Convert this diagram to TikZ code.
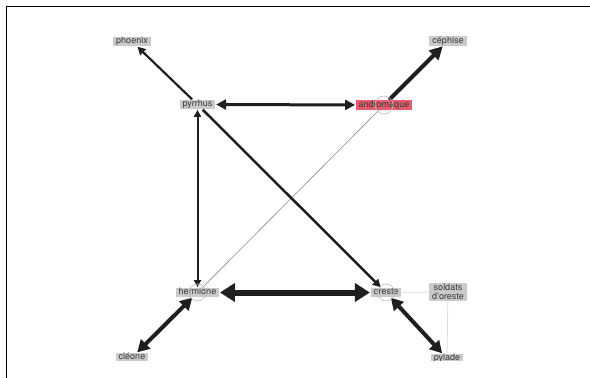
\documentclass[tikz,border=0pt]{standalone}
\usepackage{fontspec}
\setmainfont{TeX Gyre Heros}
\usetikzlibrary{arrows.meta}
\definecolor{boxgray}{HTML}{CACACA}
\definecolor{txtgray}{HTML}{3A3A3A}
\definecolor{redbox}{HTML}{E85A6E}
\definecolor{edgecol}{HTML}{1F1F1F}
\definecolor{thingray}{HTML}{8A8A8A}
\definecolor{lightline}{HTML}{DDDDDD}
\definecolor{loopgray}{HTML}{BBBBBB}
\pgfdeclarelayer{bg}
\pgfsetlayers{bg,main}
\begin{document}
\begin{tikzpicture}[x=1pt,y=-1pt,
  lbl/.style={fill=boxgray, text=txtgray, font=\fontsize{9}{9.5}\selectfont,
    inner xsep=3pt, inner ysep=0.4pt, text height=6.5pt, text depth=2pt},
  lbltwo/.style={fill=boxgray, text=txtgray, font=\fontsize{9}{9.5}\selectfont,
    inner xsep=3pt, inner ysep=1pt, align=center},
  edge/.style={draw=edgecol, shorten >=0.5pt, shorten <=0.5pt},
  thin/.style={draw=thingray, line width=0.6pt},
  faint/.style={draw=lightline, line width=0.8pt},
  selfloop/.style={draw=loopgray, line width=0.6pt}]
\useasboundingbox (0,0) rectangle (590,378);
\begin{scope}
\clip (6,7) rectangle (590,360);
\node[lbl] (phoenix) at (132,41.5) {phoenix};
\node[lbl] (cephise) at (448,41) {céphise};
\node[lbl] (pyrrhus) at (197.5,104.5) {pyrrhus};
\node[lbl, fill=redbox] (andromaque) at (384,105) {andromaque};
\node[lbl] (hermione) at (197.5,292.5) {hermione};
\node[lbl] (oreste) at (386,292.5) {oreste};
\node[lbltwo] (soldats) at (448,292) {soldats\\d'oreste};
\node[lbl] (cleone) at (132,357.5) {cléone};
\node[lbl] (pylade) at (447,358.5) {pylade};
% self loops
\draw[selfloop] (andromaque.center) circle (9);
\draw[selfloop] (hermione.center) circle (8.5);
\draw[selfloop] (oreste.center) circle (8.5);
\end{scope}
\begin{pgfonlayer}{bg}
\begin{scope}
\clip (6,7) rectangle (590,360);
\draw[faint] (oreste) -- (soldats);
\draw[faint] (soldats) -- (pylade);
\draw[thin] (hermione) -- (andromaque);
\draw[edge, line width=2.2pt, -{Triangle[length=8pt,width=8pt]}] (pyrrhus) -- (phoenix);
\draw[edge, line width=3pt, {Triangle[length=10pt,width=10pt]}-{Triangle[length=10pt,width=10pt]}] (pyrrhus) -- (andromaque);
\draw[edge, line width=4pt, -{Triangle[length=13pt,width=13pt]}] (andromaque) -- (cephise);
\draw[edge, line width=2pt, {Triangle[length=7pt,width=7pt]}-{Triangle[length=7pt,width=7pt]}] (pyrrhus) -- (hermione);
\draw[edge, line width=2.5pt, -{Triangle[length=8pt,width=8pt]}] (pyrrhus) -- (oreste);
\draw[edge, line width=6pt, {Triangle[length=15pt,width=18pt]}-{Triangle[length=15pt,width=18pt]}] (hermione) -- (oreste);
\draw[edge, line width=4pt, {Triangle[length=12pt,width=13pt]}-{Triangle[length=12pt,width=13pt]}] (hermione) -- (cleone);
\draw[edge, line width=4pt, {Triangle[length=12pt,width=13pt]}-{Triangle[length=12pt,width=13pt]}] (oreste) -- (pylade);
\end{scope}
\end{pgfonlayer}
% frame
\draw[line width=1.4pt, black] (6.3,378) -- (6.3,6.5) -- (590,6.5);
\end{tikzpicture}
\end{document}
